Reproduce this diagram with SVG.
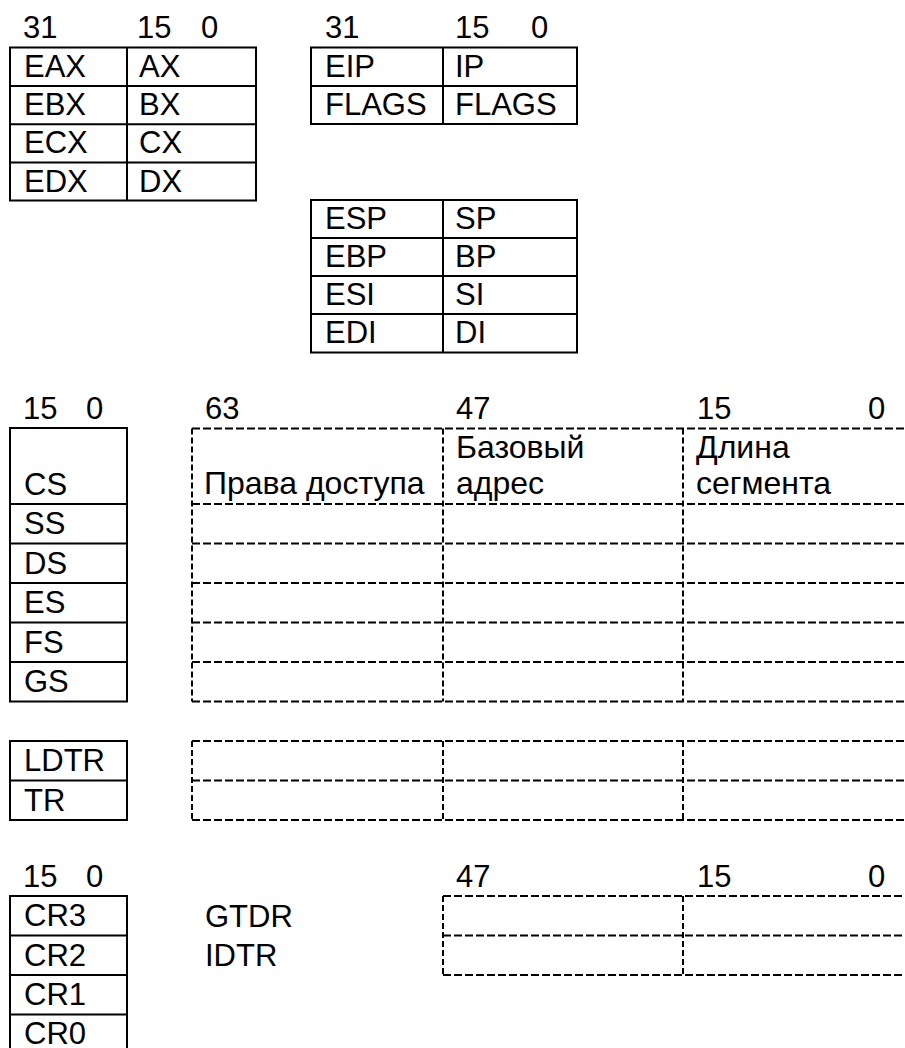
<svg xmlns="http://www.w3.org/2000/svg" width="905" height="1048" viewBox="0 0 905 1048">
<style>
text{font-family:"Liberation Sans",Arial,sans-serif;font-size:31px;fill:#000}
text.c{font-size:32px}
.s{fill:none;stroke:#000;stroke-width:2}
.dh{fill:none;stroke:#000;stroke-width:2;stroke-dasharray:8 3}
.dv{fill:none;stroke:#000;stroke-width:2;stroke-dasharray:6 3}
</style>
<rect width="905" height="1048" fill="#fff"/>
<g id="gpr">
<text x="23" y="38">31</text><text x="137" y="38">15</text><text x="201" y="38">0</text>
<rect class="s" x="10" y="47.5" width="246" height="153"/>
<path class="s" d="M127 47.5V200.5M10 86H256M10 124.3H256M10 162.5H256"/>
<text x="24" y="77">EAX</text><text x="139" y="77">AX</text>
<text x="24" y="115">EBX</text><text x="139" y="115">BX</text>
<text x="24" y="153">ECX</text><text x="139" y="153">CX</text>
<text x="24" y="192">EDX</text><text x="139" y="192">DX</text>
</g>
<g id="ipflags">
<text x="325" y="38">31</text><text x="455" y="38">15</text><text x="531" y="38">0</text>
<rect class="s" x="311" y="47.5" width="266" height="76.5"/>
<path class="s" d="M443 47.5V124M311 86H577"/>
<text x="325" y="77">EIP</text><text x="455" y="77">IP</text>
<text x="325" y="115">FLAGS</text><text x="455" y="115">FLAGS</text>
</g>
<g id="ptr">
<rect class="s" x="311" y="200" width="266" height="152.5"/>
<path class="s" d="M443 200V352.5M311 238H577M311 276H577M311 314H577"/>
<text x="325" y="229">ESP</text><text x="455" y="229">SP</text>
<text x="325" y="267">EBP</text><text x="455" y="267">BP</text>
<text x="325" y="305">ESI</text><text x="455" y="305">SI</text>
<text x="325" y="343">EDI</text><text x="455" y="343">DI</text>
</g>
<g id="seg">
<text x="23" y="419">15</text><text x="86" y="419">0</text>
<rect class="s" x="10" y="428" width="117" height="273.5"/>
<path class="s" d="M10 504H127M10 543.5H127M10 583H127M10 622.5H127M10 662H127"/>
<text x="24" y="495">CS</text>
<text x="24" y="534">SS</text>
<text x="24" y="574">DS</text>
<text x="24" y="613">ES</text>
<text x="24" y="653">FS</text>
<text x="24" y="692">GS</text>
</g>
<g id="desc">
<text x="205" y="419">63</text><text x="456" y="419">47</text><text x="697" y="419">15</text><text x="868" y="419">0</text>
<path class="dh" d="M192 428.5H905M192 504H905M192 543.5H905M192 583H905M192 622.5H905M192 662H905M192 701.5H905"/>
<path class="dv" d="M192 428.5V701.5M443 428.5V701.5M683 428.5V701.5"/>
<text class="c" x="204" y="494">Права доступа</text>
<text class="c" x="456" y="458">Базовый</text><text class="c" x="456" y="494">адрес</text>
<text class="c" x="696" y="458">Длина</text><text class="c" x="696" y="494">сегмента</text>
</g>
<g id="sys">
<rect class="s" x="10" y="741" width="117" height="79"/>
<path class="s" d="M10 780.5H127"/>
<text x="24" y="771">LDTR</text>
<text x="24" y="811">TR</text>
</g>
<g id="sysdesc">
<path class="dh" d="M192 741H905M192 780.5H905M192 820H905"/>
<path class="dv" d="M192 741V820M443 741V820M683 741V820"/>
</g>
<g id="cr">
<text x="23" y="887">15</text><text x="86" y="887">0</text>
<rect class="s" x="10" y="896" width="117" height="158"/>
<path class="s" d="M10 935.5H127M10 975H127M10 1014.5H127"/>
<text x="24" y="926">CR3</text>
<text x="24" y="966">CR2</text>
<text x="24" y="1005">CR1</text>
<text x="24" y="1044">CR0</text>
</g>
<g id="labels">
<text x="205" y="927">GTDR</text>
<text x="205" y="966">IDTR</text>
</g>
<g id="tbl">
<text x="456" y="887">47</text><text x="697" y="887">15</text><text x="868" y="887">0</text>
<path class="dh" d="M443 896H905M443 935.5H905M443 975H905"/>
<path class="dv" d="M443 896V975M683 896V975"/>
</g>
<g id="connectors"/>
</svg>
